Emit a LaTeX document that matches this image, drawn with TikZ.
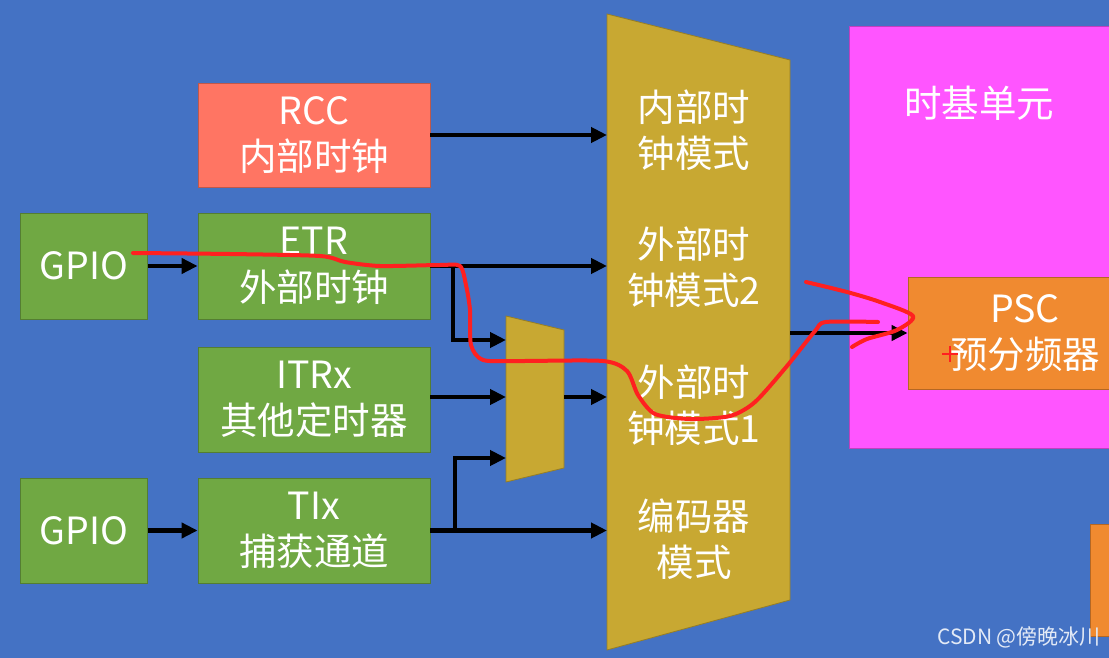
\documentclass[tikz,border=0pt]{standalone}
\usepackage{fontspec}
\setmainfont{Noto Sans CJK SC}
\usetikzlibrary{arrows.meta}
\definecolor{bgblue}{HTML}{4472C4}
\definecolor{gbox}{HTML}{70A843}
\definecolor{rbox}{HTML}{FF7563}
\definecolor{muxc}{HTML}{C8A832}
\definecolor{pinkc}{HTML}{FF55FF}
\definecolor{orc}{HTML}{F08A30}
\definecolor{penred}{HTML}{FF2020}
\begin{document}
\begin{tikzpicture}[x=1pt,y=-1pt,
  box/.style={draw=#1!75!black, line width=0.8pt, fill=#1, text=white, align=center,
    font=\fontsize{37.5}{46.5}\selectfont, inner sep=0pt},
  txt/.style={text=white, align=center, font=\fontsize{37.5}{46.5}\selectfont, inner sep=0pt},
  arr/.style={-{Triangle[length=16pt,width=15pt]}, line width=4.5pt, black},
  pen/.style={penred, line width=4pt, line cap=round, line join=round}]
\fill[bgblue] (0,0) rectangle (1109,658);
\useasboundingbox (0,0) rectangle (1109,658);
\clip (0,0) rectangle (1109,658);

% right side blocks
\draw[fill=pinkc, draw=pinkc!75!black, line width=0.8pt] (849,26) rectangle (1130,448);
\node[txt] (tbu) at (979,103) {时基单元};
\node[box=orc, minimum width=234pt, minimum height=112pt] (psc) at (1025,333) {PSC\\预分频器};
\draw[fill=orc, draw=orc!75!black, line width=0.8pt] (1090,524) rectangle (1130,636);

% left boxes
\node[box=rbox, minimum width=232pt, minimum height=104pt] (rcc) at (314,135) {RCC\\内部时钟};
\node[box=gbox, minimum width=127pt, minimum height=106pt] (gpio1) at (84,266) {GPIO};
\node[box=gbox, minimum width=232pt, minimum height=106pt] (etr) at (314,266) {ETR\\外部时钟};
\node[box=gbox, minimum width=232pt, minimum height=105pt] (itr) at (314,399.5) {ITRx\\其他定时器};
\node[box=gbox, minimum width=127pt, minimum height=105pt] (gpio2) at (84,530.5) {GPIO};
\node[box=gbox, minimum width=232pt, minimum height=105pt] (tix) at (314,530.5) {TIx\\捕获通道};

% multiplexers
\draw[fill=muxc, draw=muxc!75!black, line width=0.8pt] (607,14) -- (790,60) -- (790,600) -- (607,650) -- cycle;
\draw[fill=muxc, draw=muxc!75!black, line width=0.8pt] (506,316) -- (564,330) -- (564,468) -- (506,482) -- cycle;
\coordinate (bl) at (607,0);
\coordinate (s1) at (506,340);
\coordinate (s2) at (506,397);
\coordinate (s3) at (506,458);
\coordinate (so) at (564,397);
\coordinate (mo) at (790,333);
\coordinate (j1) at (453,266);
\coordinate (j2) at (455,530.5);

\node[txt] (t1) at (694,130) {内部时\\钟模式};
\node[txt] (t2) at (694,267) {外部时\\钟模式2};
\node[txt] (t3) at (694,405) {外部时\\钟模式1};
\node[txt] (t4) at (694,539) {编码器\\模式};

% connectors
\draw[arr] (rcc.east) -- (rcc.east -| bl);
\draw[arr] (gpio1.east) -- (etr.west);
\draw[arr] (etr.east) -- (etr.east -| bl);
\draw[arr] (j1) |- (s1);
\draw[arr] (itr.east |- s2) -- (s2);
\draw[arr] (so) -- (so -| bl);
\draw[arr] (gpio2.east) -- (tix.west);
\draw[arr] (tix.east) -- (tix.east -| bl);
\draw[arr] (j2) |- (s3);
\draw[arr] (mo) -- (mo -| psc.west);

% hand-drawn red annotation
\draw[pen] plot[smooth, tension=0.45] coordinates {(133,253) (230,254) (320,256) (345,262) (380,266) (440,265) (460,266) (466,285) (470,310) (471,345) (483,360) (520,361) (603,361) (627,371) (638,395) (655,414) (690,419) (730,416) (755,402) (787,366) (815,331) (826,322) (878,322)};
\draw[pen] plot[smooth, tension=0.5] coordinates {(806,282) (847,292) (880,302) (913,316) (897,330) (867,339) (852,347)};
\draw[penred, line width=2.5pt] (942,354) -- (958,354) (950,346) -- (950,362);

% watermark
\node[text=white!85!bgblue, font=\fontsize{21}{24}\selectfont, anchor=east, inner sep=0pt] (wm) at (1101,637) {CSDN @傍晚冰川};
\end{tikzpicture}
\end{document}
